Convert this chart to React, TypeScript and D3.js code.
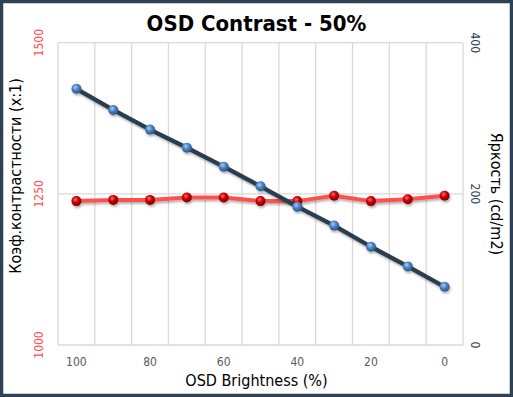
import React from 'react';
import * as d3 from 'd3';

// OSD Brightness (%) categories, left to right
const brightnessSteps = [100, 90, 80, 70, 60, 50, 40, 30, 20, 10, 0];
const xTickLabels = ['100', '80', '60', '40', '20', '0'];
// contrast ratio (x:1), left axis
const contrastValues = [1238, 1240, 1240, 1244, 1244, 1238, 1238, 1247, 1238, 1241, 1247];
// luminance (cd/m2), right axis
const luminanceValues = [339, 311, 285, 261, 236, 210, 183, 158, 130, 104, 77];
const leftTicks = [1000, 1250, 1500];
const rightTicks = [0, 200, 400];

const W = 513;
const H = 397;
const plot = { left: 58, right: 463, top: 42.7, bottom: 345 };
const FONT = '"DejaVu Sans Condensed", "DejaVu Sans", sans-serif';

const App = () => {
    const x = d3.scaleBand<number>()
        .domain(brightnessSteps)
        .range([plot.left, plot.right])
        .padding(0);
    const yLeft = d3.scaleLinear().domain([1000, 1500]).range([plot.bottom, plot.top]);
    const yRight = d3.scaleLinear().domain([0, 400]).range([plot.bottom, plot.top]);
    const cx = (d: number) => (x(d) as number) + x.bandwidth() / 2;

    const contrastLine = d3.line<number>()
        .x((d, i) => cx(brightnessSteps[i]))
        .y(d => yLeft(d));
    const luminanceLine = d3.line<number>()
        .x((d, i) => cx(brightnessSteps[i]))
        .y(d => yRight(d));

    // gridlines sit on the band edges
    const vGrid = brightnessSteps.map(d => x(d) as number).concat([plot.right]);

    return (
        <svg width={W} height={H} style={{ position: 'fixed', left: 0, top: 0 }}>
            <defs>
                <filter id="shadow" x="-10%" y="-10%" width="120%" height="130%">
                    <feDropShadow dx="1" dy="2" stdDeviation="1.2" floodColor="#000" floodOpacity="0.3" />
                </filter>
                <radialGradient id="blueBall" cx="40%" cy="35%" r="65%">
                    <stop offset="0%" stopColor="#a9cbf2" />
                    <stop offset="45%" stopColor="#4f86c6" />
                    <stop offset="100%" stopColor="#2a5488" />
                </radialGradient>
                <radialGradient id="redBall" cx="40%" cy="35%" r="65%">
                    <stop offset="0%" stopColor="#ff7070" />
                    <stop offset="45%" stopColor="#d00000" />
                    <stop offset="100%" stopColor="#7a0000" />
                </radialGradient>
            </defs>

            <rect x={1.5} y={1.5} width={W - 3} height={H - 3} fill="#fff" stroke="#2f4255" strokeWidth={3.5} />

            <text x={W / 2} y={31} textAnchor="middle" fontFamily={FONT} fontWeight="bold" fontSize={22} fill="#000">
                OSD Contrast - 50%
            </text>

            <g stroke="#d9d9d9" strokeWidth={1.3}>
                {vGrid.map((gx, i) => (
                    <line key={'v' + i} x1={gx} x2={gx} y1={plot.top} y2={plot.bottom} />
                ))}
                {leftTicks.map(t => (
                    <line key={'h' + t} x1={plot.left} x2={plot.right} y1={yLeft(t)} y2={yLeft(t)} />
                ))}
            </g>

            {xTickLabels.map(t => (
                <text key={t} x={cx(+t)} y={366} textAnchor="middle" fontFamily={FONT} fontSize={12} fill="#595959">{t}</text>
            ))}
            <text x={W / 2} y={386} textAnchor="middle" fontFamily={FONT} fontSize={16} fill="#000">OSD Brightness (%)</text>

            {leftTicks.map(t => (
                <text key={t} transform={`translate(43,${yLeft(t)}) rotate(-90)`} textAnchor="middle" fontFamily={FONT} fontSize={12} fill="#ff5050">{t}</text>
            ))}
            <text transform={`translate(21,176) rotate(-90)`} textAnchor="middle" fontFamily={FONT} fontSize={16} fill="#000">Коэф.контрастности (x:1)</text>

            {rightTicks.map(t => (
                <text key={t} transform={`translate(471,${yRight(t)}) rotate(90)`} textAnchor="middle" fontFamily={FONT} fontSize={12} fill="#2f4255">{t}</text>
            ))}
            <text transform={`translate(491,194) rotate(90)`} textAnchor="middle" fontFamily={FONT} fontSize={16} fill="#000">Яркость (cd/m2)</text>

            <g filter="url(#shadow)">
                <path d={contrastLine(contrastValues) || ''} fill="none" stroke="#ff5050" strokeWidth={4} strokeLinejoin="round" />
                {contrastValues.map((v, i) => (
                    <circle key={i} cx={cx(brightnessSteps[i])} cy={yLeft(v)} r={5} fill="url(#redBall)" />
                ))}
            </g>
            <g filter="url(#shadow)">
                <path d={luminanceLine(luminanceValues) || ''} fill="none" stroke="#2c3e50" strokeWidth={4.3} strokeLinejoin="round" />
                {luminanceValues.map((v, i) => (
                    <circle key={i} cx={cx(brightnessSteps[i])} cy={yRight(v)} r={5} fill="url(#blueBall)" />
                ))}
            </g>
        </svg>
    );
};

export default App;
